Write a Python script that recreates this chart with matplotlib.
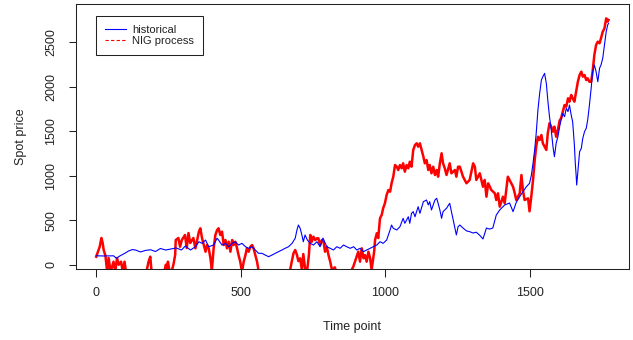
import matplotlib
matplotlib.use("Agg")
import matplotlib.pyplot as plt
from matplotlib.lines import Line2D

plt.rcParams['font.family'] = ['Liberation Sans', 'DejaVu Sans']

# ---- data ----
hist_t = [0, 30, 60, 70, 80, 100, 112, 125, 136, 153, 170, 188, 205, 222, 240, 257, 277, 295, 308, 326,
          343, 355, 366, 378, 389, 406, 418, 423, 435, 447, 458, 470, 481, 492, 504, 516, 527, 539, 550,
          561, 573, 584, 596, 608, 619, 630, 642, 653, 665, 677, 688, 694, 699, 705, 711, 716, 722, 730,
          740, 751, 763, 774, 784, 797, 809, 820, 832, 843, 855, 866, 878, 890, 901, 912, 924, 935, 947,
          958, 970, 981, 992, 1004, 1016, 1021, 1027, 1039, 1050, 1061, 1067, 1079, 1084, 1090, 1096,
          1102, 1113, 1119, 1131, 1142, 1148, 1153, 1159, 1171, 1177, 1182, 1188, 1194, 1199, 1211, 1222,
          1234, 1245, 1251, 1257, 1268, 1280, 1291, 1303, 1314, 1326, 1337, 1343, 1349, 1360, 1371, 1383,
          1395, 1412, 1429, 1441, 1452, 1457, 1464, 1475, 1487, 1498, 1504, 1510, 1516, 1521, 1527, 1533,
          1539, 1544, 1550, 1556, 1561, 1567, 1573, 1579, 1584, 1590, 1596, 1602, 1607, 1613, 1619, 1625,
          1631, 1636, 1642, 1647, 1653, 1656, 1659, 1661, 1665, 1671, 1677, 1682, 1688, 1694, 1699, 1705,
          1711, 1716, 1722, 1728, 1734, 1740, 1745, 1751, 1757, 1763, 1768, 1771]
hist_v = [100, 98, 100, 72, 95, 130, 154, 170, 165, 143, 160, 168, 148, 182, 165, 176, 188, 165, 210, 165,
          202, 258, 240, 277, 202, 221, 297, 277, 221, 240, 202, 240, 258, 221, 240, 202, 184, 202, 165,
          128, 128, 109, 90, 109, 128, 146, 165, 184, 202, 240, 297, 390, 446, 409, 334, 258, 334, 277,
          240, 221, 258, 202, 300, 202, 184, 165, 202, 184, 221, 202, 184, 202, 165, 184, 146, 165, 184,
          202, 221, 258, 240, 277, 390, 446, 409, 390, 427, 521, 465, 539, 465, 577, 596,
          539, 652, 577, 708, 727, 671, 708, 615, 727, 746, 690, 615, 521, 596, 634, 690,
          502, 334, 427, 446, 412, 380, 371, 356, 365, 330, 289, 350, 412, 400, 412, 558,
          615, 671, 693, 596, 700, 727, 764, 820, 876, 915, 1000, 1139, 1300, 1476, 1738, 1926,
          2075, 2113, 2150, 2038, 1851, 1663, 1514, 1326, 1214, 1364, 1438, 1551, 1626, 1700, 1663, 1757,
          1720, 1794, 1682, 1607, 1345, 1150, 1008, 895, 1045, 1270, 1308, 1420, 1494, 1533, 1626, 1794,
          1982, 2169, 2244, 2169, 2056, 2207, 2244, 2319, 2469, 2618, 2693, 2712]

nig_t = [0, 12, 18, 22, 26, 32, 38, 43, 50, 60, 66, 72, 78, 86, 92, 98, 104, 120, 150, 175, 181, 187,
         192, 210, 235, 241, 245, 248, 255, 262, 267, 273, 275, 284, 290, 296, 307, 313, 319, 325, 336,
         343, 355, 360, 366, 372, 378, 383, 389, 395, 400, 406, 412, 418, 423, 429, 435, 441, 447, 452,
         458, 464, 470, 475, 481, 487, 492, 498, 504, 510, 516, 521, 527, 533, 539, 544, 550, 556, 561,
         580, 620, 660, 671, 676, 682, 688, 694, 699, 705, 711, 716, 722, 728, 735, 740, 745, 751, 757,
         763, 768, 774, 780, 786, 791, 797, 803, 809, 815, 825, 832, 860, 880, 889, 895, 900, 906, 912,
         918, 924, 929, 935, 941, 947, 952, 958, 961, 964, 970, 975, 981, 987, 992, 998, 1004, 1010,
         1016, 1021, 1027, 1033, 1039, 1044, 1050, 1056, 1061, 1067, 1073, 1079, 1084, 1090, 1096, 1102,
         1108, 1113, 1119, 1125, 1131, 1136, 1142, 1148, 1153, 1159, 1165, 1171, 1177, 1182, 1188, 1194,
         1199, 1205, 1211, 1222, 1228, 1240, 1245, 1251, 1257, 1268, 1280, 1291, 1303, 1309, 1314, 1326,
         1337, 1343, 1349, 1355, 1366, 1378, 1383, 1389, 1395, 1406, 1412, 1423, 1429, 1441, 1447, 1452,
         1464, 1470, 1475, 1481, 1493, 1498, 1504, 1510, 1516, 1521, 1527, 1533, 1539, 1544, 1550, 1556,
         1561, 1567, 1573, 1579, 1584, 1590, 1596, 1602, 1607, 1613, 1619, 1625, 1631, 1636, 1642, 1647,
         1653, 1659, 1665, 1671, 1677, 1682, 1688, 1694, 1699, 1705, 1711, 1716, 1722, 1728, 1734, 1740,
         1745, 1751, 1757, 1763, 1768, 1771]
nig_v = [90, 200, 300, 250, 165, 100, -80, 75, -80, 34, -80, 75, 0, 34, -80, 34, -100, -250, -200, -60, 34, 90,
         -100, -250, -80, 0, -60, 34, -100, -60, 0, 110, 277, 300, 202, 277, 334, 188, 356, 244, 300,
         184, 371, 409, 297, 221, 146, 221, 184, 72, -60, 184, 334, 390, 409, 334, 371, 221, 277, 184,
         258, 146, 277, 221, 258, 184, 109, 34, -80, 34, 109, 184, 146, 202, 221, 184, 109, 34, -60,
         -200, -250, -100, -50, 34, 128, 165, 109, 40, 72, -60, 120, -40, -100, 100, 334, 258, 315, 277,
         297, 297, 221, 277, 258, 146, 202, 109, 34, -60, -30, -100, -200, -80, -20, 40, 90, 146, 34,
         184, 72, 109, 34, 146, 72, -60, 80, 150, 277, 353, 300, 520, 560, 634, 690, 783, 839,
         820, 915, 989, 1120, 1101, 1064, 1120, 1083, 1139, 1045, 1120, 1083, 1157, 1101, 1289, 1345,
         1364, 1326, 1364, 1289, 1214, 1139, 1176, 1064, 1120, 1027, 1101, 1008, 1064, 989, 1139, 1252,
         1139, 1083, 1008, 1139, 1027, 1064, 989, 1101, 1101, 989, 915, 952, 1139, 1101, 952, 1027,
         876, 952, 764, 915, 839, 802, 727, 802, 652, 764, 690, 989, 952, 876, 802, 727,
         802, 1008, 839, 727, 746, 600, 764, 950, 1180, 1326, 1438, 1401, 1457, 1364, 1326, 1289,
         1476, 1589, 1551, 1494, 1551, 1438, 1514, 1620, 1645, 1719, 1794, 1776, 1870, 1832, 1907, 1870,
         1832, 1944, 2056, 2131, 2169, 2113, 2131, 2075, 2094, 2056, 2056, 2169, 2356, 2469, 2506, 2488,
         2544, 2618, 2656, 2768, 2731, 2750]

x_ticks = [0, 500, 1000, 1500]
y_ticks = [0, 500, 1000, 1500, 2000, 2500]
legend_labels = ["historical", "NIG process"]

# ---- figure ----
W, H = 633, 340
fig = plt.figure(figsize=(W / 100, H / 100), dpi=100)
ax = fig.add_axes([75.7 / W, 1 - 268.7 / H, (629 - 75.7) / W, (268.7 - 4.3) / H])

ax.plot(nig_t, nig_v, color="#FF0000", lw=1.8, zorder=2)
ax.plot(hist_t, hist_v, color="#0000FF", lw=0.8, zorder=3)

ax.set_xlim(-70.8, 1841.8)
ax.set_ylim(-45, 2926)

ax.set_xticks(x_ticks)
ax.set_yticks(y_ticks)
ax.tick_params(axis="both", direction="out", length=5.4, width=0.75, color="#222222",
               labelsize=9, labelcolor="#222222")
ax.tick_params(axis="x", pad=7.5)
ax.tick_params(axis="y", pad=8.0)
for lab in ax.get_yticklabels():
    lab.set_rotation(90)
    lab.set_va("center")

for s in ax.spines.values():
    s.set_linewidth(0.75)
    s.set_color("#222222")

ax.set_xlabel("Time point", fontsize=9, color="#222222", labelpad=16)
ax.set_ylabel("Spot price", fontsize=9, color="#222222", labelpad=13)

handles = [Line2D([], [], color="#0000FF", lw=0.8),
           Line2D([], [], color="#FF0000", lw=0.8, ls=(0, (3, 2)))]
leg = ax.legend(handles, legend_labels, loc="upper left",
                bbox_to_anchor=(20 / 553.3, 1 - 11.4 / 264.4), borderaxespad=0,
                fontsize=8, frameon=True, fancybox=False, framealpha=1,
                handlelength=1.9, handletextpad=0.6, borderpad=0.8, labelspacing=0.15)
leg.get_frame().set_edgecolor("#222222")
leg.get_frame().set_linewidth(0.75)
for t in leg.get_texts():
    t.set_color("#222222")

fig.savefig("out.png", dpi=100)
